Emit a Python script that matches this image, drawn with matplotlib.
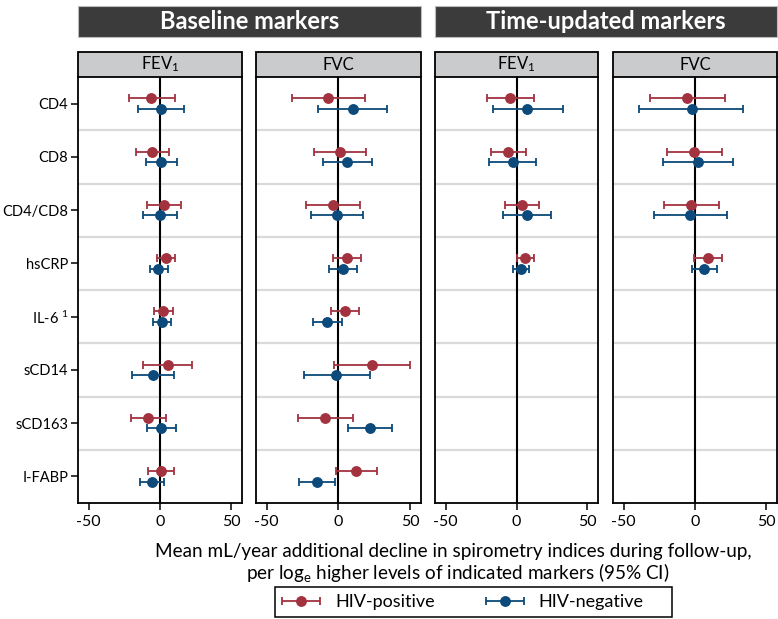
import matplotlib
matplotlib.use("Agg")
import matplotlib.pyplot as plt
from matplotlib.patches import Rectangle
from matplotlib.legend_handler import HandlerErrorbar
import numpy as np

plt.rcParams['font.family'] = ['Lato', 'DejaVu Sans']
plt.rcParams['mathtext.fontset'] = 'custom'
plt.rcParams['mathtext.rm'] = 'Lato'
plt.rcParams['mathtext.it'] = 'Lato:italic'

markers = ["CD4", "CD8", "CD4/CD8", "hsCRP", "IL-6 $^{\\mathregular{1}}$", "sCD14", "sCD163", "I-FABP"]
panel_titles = ["FEV$_{\\mathregular{1}}$", "FVC", "FEV$_{\\mathregular{1}}$", "FVC"]
group_titles = ["Baseline markers", "Time-updated markers"]
xticks = [-50, 0, 50]

# Baseline FEV1
b_fev_pos = [-6.0, -5.4, 2.8, 4.2, 2.3, 5.6, -8.2, 0.5]
b_fev_pos_lo = [-22.0, -17.0, -9.1, -2.1, -4.0, -11.9, -20.0, -8.6]
b_fev_pos_hi = [10.3, 6.3, 14.5, 10.5, 9.1, 22.4, 4.0, 9.8]
b_fev_neg = [0.5, 0.5, -0.2, -1.2, 1.6, -4.9, 0.5, -5.6]
b_fev_neg_lo = [-15.4, -10.0, -11.7, -7.0, -4.9, -19.8, -9.3, -13.8]
b_fev_neg_hi = [16.8, 12.1, 11.7, 5.8, 7.7, 10.0, 11.0, 3.0]

# Baseline FVC
b_fvc_pos = [-7.0, 0.9, -4.0, 5.6, 4.2, 23.5, -9.3, 12.1]
b_fvc_pos_lo = [-32.4, -17.0, -22.6, -4.0, -5.4, -3.0, -28.2, -1.9]
b_fvc_pos_hi = [18.6, 19.1, 14.7, 15.6, 14.0, 49.9, 9.8, 26.6]
b_fvc_neg = [10.2, 5.8, -1.2, 3.3, -7.9, -1.4, 21.9, -14.9]
b_fvc_neg_lo = [-14.5, -10.7, -19.1, -6.3, -17.5, -24.2, 6.3, -27.5]
b_fvc_neg_hi = [34.0, 23.3, 16.8, 13.1, 2.1, 21.7, 37.5, -2.1]

# Time-updated FEV1 (first four markers)
t_fev_pos = [-4.4, -5.8, 4.2, 5.8]
t_fev_pos_lo = [-20.7, -17.7, -8.4, 0.2]
t_fev_pos_hi = [12.6, 7.0, 16.1, 12.4]
t_fev_neg = [7.5, -2.6, 7.5, 3.0]
t_fev_neg_lo = [-16.5, -19.1, -9.8, -2.6]
t_fev_neg_hi = [32.7, 13.8, 24.5, 8.9]

# Time-updated FVC
t_fvc_pos = [-5.4, -0.7, -2.8, 9.3]
t_fvc_pos_lo = [-31.5, -19.8, -21.7, -0.5]
t_fvc_pos_hi = [21.2, 18.6, 16.8, 18.9]
t_fvc_neg = [-2.3, 2.1, -3.3, 6.3]
t_fvc_neg_lo = [-39.4, -22.4, -28.9, -2.3]
t_fvc_neg_hi = [34.0, 26.6, 22.6, 15.4]

panels = [
    (b_fev_pos, b_fev_pos_lo, b_fev_pos_hi, b_fev_neg, b_fev_neg_lo, b_fev_neg_hi),
    (b_fvc_pos, b_fvc_pos_lo, b_fvc_pos_hi, b_fvc_neg, b_fvc_neg_lo, b_fvc_neg_hi),
    (t_fev_pos, t_fev_pos_lo, t_fev_pos_hi, t_fev_neg, t_fev_neg_lo, t_fev_neg_hi),
    (t_fvc_pos, t_fvc_pos_lo, t_fvc_pos_hi, t_fvc_neg, t_fvc_neg_lo, t_fvc_neg_hi),
]

RED = "#A3323F"
BLUE = "#0C4A7B"
W, H = 778, 619
fig = plt.figure(figsize=(W / 100, H / 100), dpi=100)

def fx(px):
    return px / W

def fy(py):
    return 1 - py / H

panel_x = [(78, 242), (256, 421), (435, 598), (613, 777)]
top, bot = 77, 503
strip_top = 52

off = 0.1
n = len(markers)
axes = []
for k, ((x0, x1), data) in enumerate(zip(panel_x, panels)):
    ax = fig.add_axes([fx(x0), fy(bot), fx(x1 - x0), (bot - top) / H])
    axes.append(ax)
    ax.set_xlim(-57.5, 57.5)
    ax.set_ylim(n - 0.5, -0.5)
    for b in np.arange(0.5, n - 0.5, 1.0):
        ax.axhline(b, color="#dadada", lw=1.6, zorder=0)
    ax.axvline(0, color="black", lw=1.5, zorder=1)
    pos, plo, phi, neg, nlo, nhi = data
    m = len(pos)
    y = np.arange(m)
    pos = np.array(pos); neg = np.array(neg)
    ep = ax.errorbar(pos, y - off, xerr=[pos - np.array(plo), np.array(phi) - pos],
                     fmt='o', color=RED, ms=6.8, capsize=3.2, elinewidth=1.3,
                     capthick=1.3, zorder=3, label="HIV-positive")
    en = ax.errorbar(neg, y + off, xerr=[neg - np.array(nlo), np.array(nhi) - neg],
                     fmt='o', color=BLUE, ms=6.8, capsize=3.2, elinewidth=1.3,
                     capthick=1.3, zorder=3, label="HIV-negative")
    ax.set_xticks(xticks)
    ax.set_xticklabels([str(t) for t in xticks], fontsize=11.5)
    ax.tick_params(axis='x', length=5, width=1.1, pad=4)
    if k == 0:
        ax.set_yticks(range(n))
        ax.set_yticklabels(markers, fontsize=10.5)
        ax.tick_params(axis='y', length=5, width=1.1, pad=2)
    else:
        ax.set_yticks([])
    for s in ['left', 'right', 'bottom']:
        ax.spines[s].set_linewidth(1.3)
        ax.spines[s].set_color("black")
    ax.spines['top'].set_visible(False)
    # strip header
    fig.patches.append(Rectangle((fx(x0), fy(top)), fx(x1 - x0), (top - strip_top) / H,
                                 transform=fig.transFigure, facecolor="#c9cbcc",
                                 edgecolor="black", lw=1.3, zorder=5))
    fig.text(fx((x0 + x1) / 2), fy((top + strip_top) / 2), panel_titles[k],
             ha='center', va='center', fontsize=12, zorder=6)

# group banners
for (x0, x1), title in zip([(78, 421), (435, 777)], group_titles):
    fig.patches.append(Rectangle((fx(x0), fy(37)), fx(x1 - x0), 31 / H,
                                 transform=fig.transFigure, facecolor="#3b3b3c",
                                 edgecolor="#bbbbbb", lw=0.8, zorder=5))
    fig.text(fx((x0 + x1) / 2), fy(21.5), title, ha='center', va='center',
             fontsize=17, fontweight='bold', color='white', zorder=6)

fig.text(fx(453), fy(551), "Mean mL/year additional decline in spirometry indices during follow-up,",
         ha='center', va='center', fontsize=13.6)
fig.text(fx(458), fy(573), "per log$_{\\mathregular{e}}$ higher levels of indicated markers (95% CI)",
         ha='center', va='center', fontsize=13.6)

# legend: frame drawn separately to match the reference's box
fig.patches.append(Rectangle((fx(275), fy(617)), fx(672 - 275), 30 / H,
                             transform=fig.transFigure, facecolor="white",
                             edgecolor="black", lw=1.1, zorder=1))
leg = fig.legend(handles=[ep, en], labels=["HIV-positive", "HIV-negative"],
                 loc='center left', bbox_to_anchor=(fx(282), fy(602)), ncol=2,
                 fontsize=13, frameon=False, borderpad=0.0, borderaxespad=0.0,
                 handlelength=2.15, handletextpad=0.8, columnspacing=2.8,
                 handler_map={type(ep): HandlerErrorbar(xerr_size=1.05)})
leg.set_zorder(6)

fig.savefig("out.png", dpi=100)
